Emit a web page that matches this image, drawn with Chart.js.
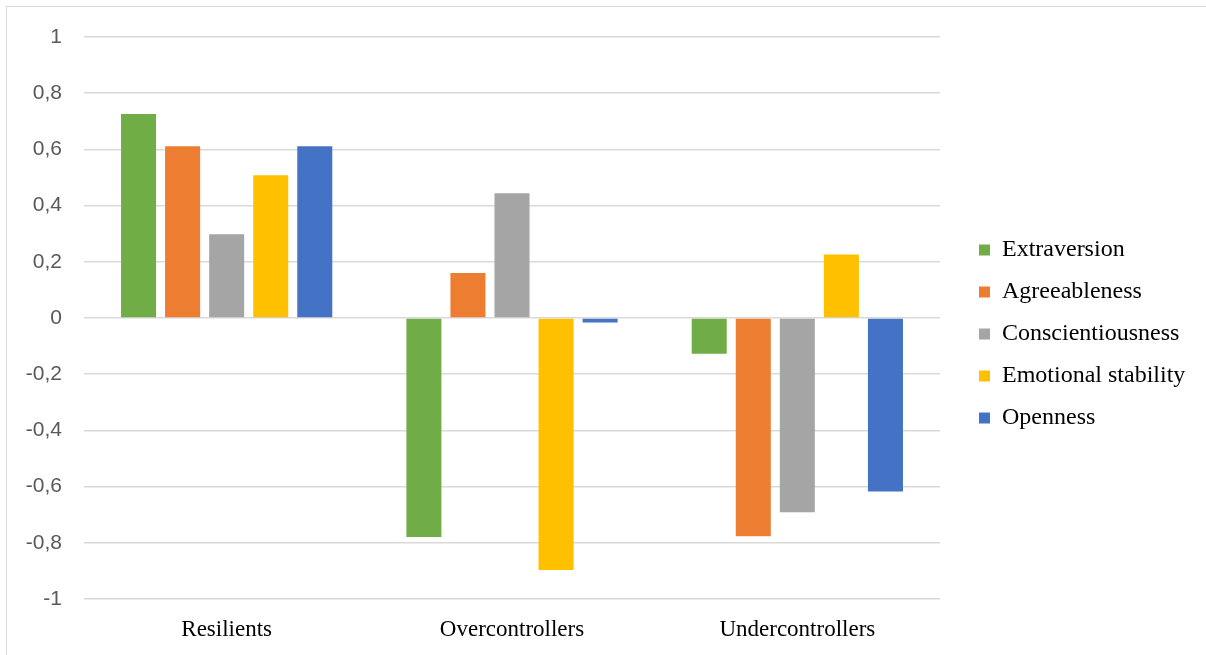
<!DOCTYPE html>
<html>
<head>
<meta charset="utf-8">
<script src="https://cdn.jsdelivr.net/npm/chart.js@4/dist/chart.umd.min.js"></script>
<style>
  html, body { margin: 0; padding: 0; background: #fff; overflow: hidden; }
  #wrap { position: relative; width: 1206px; height: 655px; }
  #frame { position: absolute; left: 6px; top: 6px; width: 1220px; height: 670px;
           border: 1.5px solid #d9d9d9; box-sizing: border-box; }
  #c { position: absolute; left: 0; top: 0; }
</style>
</head>
<body>
<div id="wrap">
  <div id="frame"></div>
  <canvas id="c" width="1206" height="655"></canvas>
</div>
<script>
// Personality profile groups (x categories)
const categories = ['Resilients', 'Overcontrollers', 'Undercontrollers'];

// Big Five trait means per group
const extraversion       = [0.726, -0.779, -0.127];
const agreeableness      = [0.611,  0.160, -0.777];
const conscientiousness  = [0.298,  0.444, -0.691];
const emotionalStability = [0.508, -0.897,  0.226];
const openness           = [0.611, -0.016, -0.617];

const seriesNames  = ['Extraversion', 'Agreeableness', 'Conscientiousness', 'Emotional stability', 'Openness'];
const seriesValues = [extraversion, agreeableness, conscientiousness, emotionalStability, openness];
const seriesColors = ['#70AD47', '#ED7D31', '#A5A5A5', '#FFC000', '#4472C4'];

// Y-axis range and tick step
const yMin = -1, yMax = 1, yStep = 0.2;

const datasets = seriesNames.map((name, i) => ({
  label: name,
  data: seriesValues[i],
  backgroundColor: seriesColors[i],
  borderWidth: 0,
  categoryPercentage: 0.772,
  barPercentage: 0.795
}));

// Legend placement: fixed-width legend column, nudged right of the plot
// and slightly up from the vertical centre.
const legendWidth = 266;
const legendShiftX = 21;
const legendShiftY = -12;
const legendPlacement = {
  id: 'legendPlacement',
  beforeLayout(chart) {
    const lg = chart.legend;
    if (lg && !lg.__fixedFit) {
      const fit = lg.fit;
      lg.fit = function () {
        fit.call(this);
        this.width = legendWidth;
      };
      lg.__fixedFit = true;
    }
  },
  afterLayout(chart) {
    const lg = chart.legend;
    if (!lg) return;
    lg.left += legendShiftX;
    lg.top += legendShiftY;
    lg.bottom += legendShiftY;
  }
};

new Chart(document.getElementById('c'), {
  type: 'bar',
  data: { labels: categories, datasets },
  plugins: [legendPlacement],
  options: {
    responsive: false,
    animation: false,
    layout: { padding: { left: 8, top: 37, right: 0, bottom: 0 } },
    plugins: {
      tooltip: { enabled: false },
      legend: {
        position: 'right',
        labels: {
          boxWidth: 11,
          boxHeight: 11,
          padding: 18,
          color: '#000',
          font: { family: '"Liberation Serif", "Times New Roman", serif', size: 24 }
        }
      }
    },
    scales: {
      x: {
        afterFit: s => { s.height = 56; },
        grid: { display: false, drawTicks: false },
        border: { display: false },
        ticks: {
          color: '#000',
          padding: 17,
          font: { family: '"Liberation Serif", "Times New Roman", serif', size: 23 }
        }
      },
      y: {
        min: yMin,
        max: yMax,
        afterFit: s => { s.width = 76; },
        grid: { color: '#d9d9d9', lineWidth: 1.5, drawTicks: false },
        border: { display: false },
        ticks: {
          stepSize: yStep,
          padding: 22,
          color: '#595959',
          font: { family: '"Liberation Sans", Arial, sans-serif', size: 21 },
          callback: v => String(Math.round(v * 10) / 10).replace('.', ',')
        }
      }
    }
  }
});
</script>
</body>
</html>
